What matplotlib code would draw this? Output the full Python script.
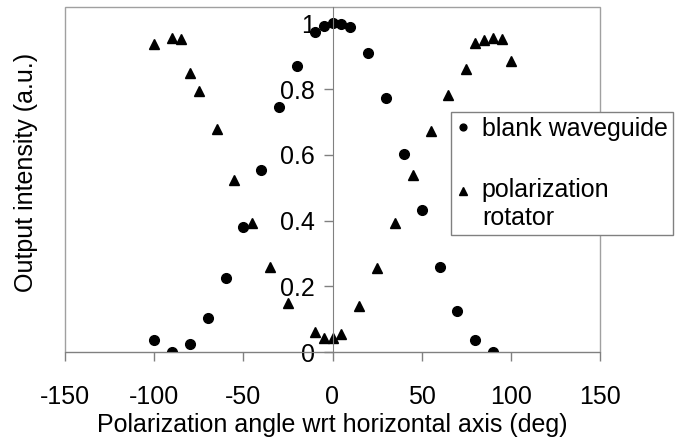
import numpy as np
import matplotlib.pyplot as plt
from matplotlib.patches import Rectangle
from matplotlib.legend_handler import HandlerLine2D

plt.rcParams['font.family'] = ['Liberation Sans', 'DejaVu Sans']
plt.rcParams['axes.unicode_minus'] = False

# blank waveguide (circles)
blank_x = [-100, -90, -80, -70, -60, -50, -40, -30, -20, -10, -5, 0, 5, 10,
           20, 30, 40, 50, 60, 70, 80, 90]
blank_y = [0.036, 0.0, 0.023, 0.104, 0.226, 0.38, 0.554, 0.747, 0.87, 0.973,
           0.993, 1.0, 0.997, 0.988, 0.911, 0.774, 0.604, 0.432, 0.26, 0.124,
           0.036, 0.0]

# polarization rotator (triangles)
rot_x = [-100, -90, -85, -80, -75, -65, -55, -45, -35, -25, -10, -5, 0, 5,
         15, 25, 35, 45, 55, 65, 75, 80, 85, 90, 95, 100]
rot_y = [0.937, 0.955, 0.952, 0.85, 0.793, 0.679, 0.524, 0.392, 0.26, 0.15,
         0.062, 0.044, 0.044, 0.054, 0.14, 0.255, 0.392, 0.54, 0.673, 0.783,
         0.86, 0.94, 0.95, 0.957, 0.953, 0.887]

x_ticks = [-150, -100, -50, 0, 50, 100, 150]
y_ticks = [0, 0.2, 0.4, 0.6, 0.8, 1.0]

fs = 18


class HandlerFirstLine(HandlerLine2D):
    # put the marker next to the first line of a two-line label
    def __init__(self, offset, **kw):
        super().__init__(**kw)
        self.offset = offset

    def create_artists(self, legend, orig_handle, xdescent, ydescent, width,
                       height, fontsize, trans):
        arts = super().create_artists(legend, orig_handle, xdescent, ydescent,
                                      width, height, fontsize, trans)
        for a in arts:
            a.set_ydata(np.asarray(a.get_ydata()) + self.offset)
        return arts


fig = plt.figure(figsize=(6.75, 4.38), dpi=100)
ax = fig.add_axes([65 / 675, 1 - 352 / 438, 535 / 675, 345 / 438])

ax.plot(blank_x, blank_y, 'o', color='black', markersize=7, label='blank waveguide')
rot_line, = ax.plot(rot_x, rot_y, '^', color='black', markersize=7.5,
                    label='polarization\nrotator')

ax.set_xlim(-150, 150)
ax.set_ylim(0, 1.05)

# y axis sits at x = 0, frame drawn as a box
for s in ['top', 'right']:
    ax.spines[s].set_visible(False)
ax.spines['left'].set_position(('data', 0))
ax.spines['left'].set_color('#808080')
ax.spines['bottom'].set_color('#808080')
ax.add_patch(Rectangle((0, 0), 1, 1, transform=ax.transAxes, fill=False,
                       ec='#a0a0a0', lw=1, clip_on=False, zorder=0))

ax.set_xticks(x_ticks)
ax.set_yticks(y_ticks)
ax.set_yticklabels(['%g' % v for v in y_ticks])
ax.tick_params(axis='both', labelsize=fs, color='#808080', length=6.5, width=1)
ax.tick_params(axis='x', pad=17)
ax.tick_params(axis='y', pad=6)

ax.set_xlabel('Polarization angle wrt horizontal axis (deg)', fontsize=fs, labelpad=3)
ax.set_ylabel('Output intensity (a.u.)', fontsize=fs)
ax.yaxis.set_label_coords(-0.05, 0.52)

leg = ax.legend(loc='upper left', bbox_to_anchor=(450.7 / 675, 1 - 111.7 / 438),
                bbox_transform=fig.transFigure, fontsize=fs, frameon=True,
                fancybox=False, edgecolor='#808080', framealpha=1,
                handlelength=0.6, handletextpad=0.45, borderpad=0.2,
                labelspacing=1.5, markerscale=0.7, borderaxespad=0,
                handler_map={rot_line: HandlerFirstLine(10)})
leg.get_frame().set_linewidth(1)
for t in leg.get_texts():
    t.set_linespacing(1.18)

fig.savefig('out.png', dpi=100)
